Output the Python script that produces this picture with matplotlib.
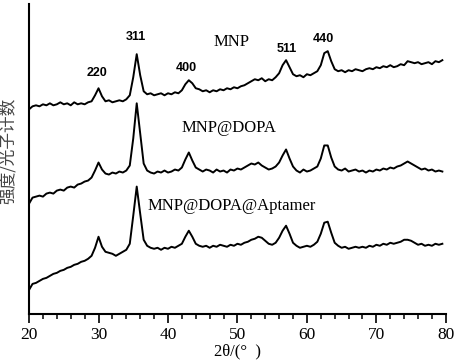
import matplotlib
matplotlib.use("Agg")
import matplotlib.pyplot as plt
import numpy as np
from matplotlib.ticker import MultipleLocator

# 2-theta grid (degrees)
two_theta = np.arange(20, 80, 0.5)

# intensities (arbitrary units, traces already offset)
mnp = [204, 207, 208, 207, 209, 208, 210, 208, 209, 211, 209, 210, 208, 211, 209, 210,
       209, 211, 212, 218, 225, 217, 212, 213, 211, 212, 213, 212, 214, 218, 236, 259,
       238, 222, 219, 220, 218, 219, 220, 218, 220, 219, 221, 220, 223, 229, 233, 230,
       225, 224, 222, 223, 221, 223, 222, 224, 223, 225, 224, 226, 225, 227, 228, 230,
       232, 234, 233, 235, 232, 234, 233, 236, 240, 248, 253, 246, 239, 237, 238, 236,
       239, 238, 240, 242, 248, 260, 262, 252, 244, 242, 243, 241, 243, 242, 244, 243,
       242, 244, 245, 244, 246, 245, 247, 246, 248, 246, 247, 249, 248, 252, 251, 250,
       251, 249, 250, 251, 249, 252, 251, 253]
mnp_dopa = [110, 116, 117, 118, 117, 120, 121, 120, 123, 124, 123, 126, 127, 126, 129, 130,
            132, 133, 136, 143, 151, 144, 140, 139, 141, 140, 142, 141, 143, 148, 175, 210,
            180, 150, 143, 141, 140, 142, 141, 143, 141, 142, 144, 143, 146, 154, 161, 153,
            146, 144, 142, 144, 143, 141, 144, 142, 143, 141, 144, 143, 145, 144, 146, 148,
            150, 149, 151, 148, 146, 144, 145, 147, 151, 158, 164, 155, 147, 143, 141, 144,
            142, 143, 145, 147, 155, 168, 168, 156, 147, 144, 143, 145, 142, 143, 144, 142,
            143, 141, 143, 142, 144, 143, 145, 144, 146, 145, 147, 148, 150, 152, 150, 148,
            146, 144, 145, 143, 144, 142, 143, 142]
mnp_dopa_apt = [24, 30, 31, 33, 35, 36, 38, 40, 41, 43, 44, 46, 47, 49, 50, 52,
                53, 55, 58, 66, 77, 67, 62, 61, 60, 58, 60, 62, 64, 70, 98, 127,
                100, 74, 68, 66, 65, 66, 64, 66, 65, 67, 66, 68, 70, 77, 83, 77,
                70, 68, 67, 68, 66, 68, 67, 69, 68, 67, 69, 68, 70, 69, 71, 72,
                74, 75, 77, 76, 73, 70, 69, 71, 76, 83, 88, 80, 71, 68, 66, 67,
                68, 67, 69, 72, 80, 91, 92, 81, 71, 68, 66, 67, 65, 66, 67, 66,
                67, 66, 68, 67, 69, 68, 70, 69, 71, 70, 71, 72, 74, 74, 73, 71,
                69, 70, 68, 69, 68, 70, 69, 70]

series_names = ["MNP", "MNP@DOPA", "MNP@DOPA@Aptamer"]
name_pos = [(49.1, 271), (48.8, 185), (49.2, 108)]

peak_labels = ["220", "311", "400", "511", "440"]
peak_pos = [(29.8, 240), (35.4, 276), (42.7, 245), (57.1, 264), (62.3, 274)]

fig = plt.figure(figsize=(4.54, 3.63), dpi=100)
ax = fig.add_axes([0.064, 0.135, 0.918, 0.854])

for y in (mnp, mnp_dopa, mnp_dopa_apt):
    ax.plot(two_theta, y, color="black", lw=1.4)

for name, (x, y) in zip(series_names, name_pos):
    ax.text(x, y, name, ha="center", va="center", fontsize=12,
            family="Liberation Serif")

for lab, (x, y) in zip(peak_labels, peak_pos):
    ax.text(x, y, lab, ha="center", va="center", fontsize=9,
            family="Liberation Sans", fontweight="bold")

ax.set_xlim(20, 80)
ax.set_ylim(0, 309)
ax.xaxis.set_major_locator(MultipleLocator(10))
ax.xaxis.set_minor_locator(MultipleLocator(2))
ax.tick_params(axis="x", which="major", direction="out", length=6.5, width=1.2,
               pad=3, labelsize=12.5)
ax.tick_params(axis="x", which="minor", direction="out", length=3.5, width=1.1)
for lbl in ax.get_xticklabels():
    lbl.set_family("Liberation Serif")
ax.set_yticks([])

ax.spines["top"].set_visible(False)
ax.spines["right"].set_visible(False)
ax.spines["left"].set_linewidth(1.5)
ax.spines["bottom"].set_linewidth(1.5)

ax.set_xlabel("2θ/(°  )", fontsize=12, family="Liberation Serif", labelpad=0)
ax.set_ylabel("强度/光子计数", fontsize=12, family=["Noto Sans CJK SC", "DejaVu Sans"],
              color="#444444")
ax.yaxis.set_label_coords(-0.029, 0.527)

fig.savefig("out.png", dpi=100)
